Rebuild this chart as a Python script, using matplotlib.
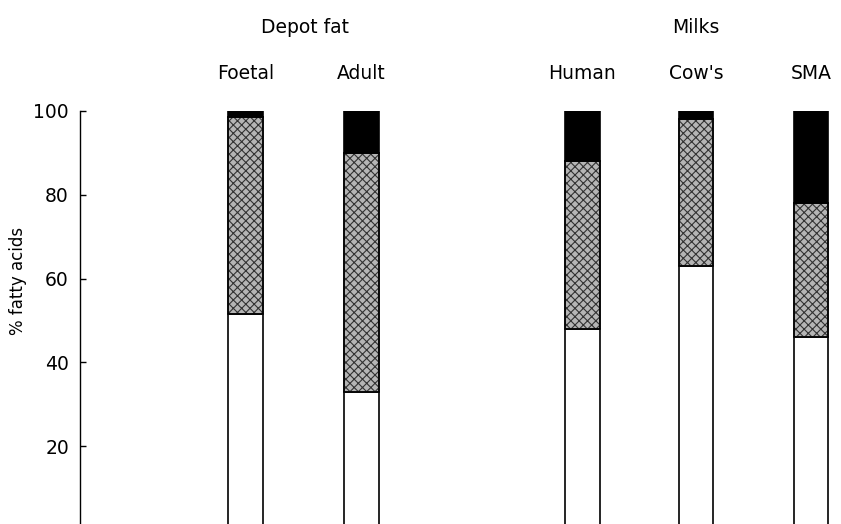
import matplotlib
matplotlib.use("Agg")
import matplotlib.pyplot as plt
import numpy as np

plt.rcParams['font.family'] = ['DejaVu Sans']
plt.rcParams['hatch.linewidth'] = 0.8

categories = ["Foetal", "Adult", "Human", "Cow's", "SMA"]
groups = ["Depot fat", "Milks"]
saturated = [51.5, 33.0, 48.0, 63.0, 46.0]
mono = [47.0, 57.0, 40.0, 35.0, 32.0]
poly = [1.5, 10.0, 12.0, 2.0, 22.0]
yticks = [20, 40, 60, 80, 100]

positions = np.array([0.0, 1.01, 2.93, 3.92, 4.92])
group_pos = [0.52, 3.92]
width = 0.30

fig = plt.figure(figsize=(8.41, 5.24), dpi=100)
ax = fig.add_axes([80/841, 0.0, 1 - 80/841, 413/524])

sat = np.array(saturated)
mo = np.array(mono)
po = np.array(poly)
ax.bar(positions, sat, width, color='white', edgecolor='black', linewidth=1.2)
ax.bar(positions, mo, width, bottom=sat, color='#b5b5b5', edgecolor='#333333',
       hatch='xxxx', linewidth=1.2)
ax.bar(positions, mo, width, bottom=sat, color='none', edgecolor='black', linewidth=1.2)
ax.bar(positions, po, width, bottom=sat + mo, color='black', edgecolor='black', linewidth=1.2)

ax.set_xlim(-1.44, 5.18)
ax.set_ylim(1.4, 100)
ax.set_yticks(yticks)
ax.set_yticklabels([str(t) for t in yticks], fontsize=13.5)
ax.tick_params(axis='y', direction='in', length=4, width=1, pad=8)
ax.set_xticks([])
for s in ['top', 'right', 'bottom']:
    ax.spines[s].set_visible(False)
ax.spines['left'].set_linewidth(1)
ax.set_ylabel('% fatty acids', fontsize=12)
ax.yaxis.set_label_coords(-0.0696, 0.588)

trans = ax.get_xaxis_transform()
for p, c in zip(positions, categories):
    ax.text(p, 1.092, c, transform=trans, ha='center', va='center', fontsize=13.5, clip_on=False)
for p, g in zip(group_pos, groups):
    ax.text(p, 1.203, g, transform=trans, ha='center', va='center', fontsize=13.5, clip_on=False)

fig.savefig('out.png', dpi=100)
